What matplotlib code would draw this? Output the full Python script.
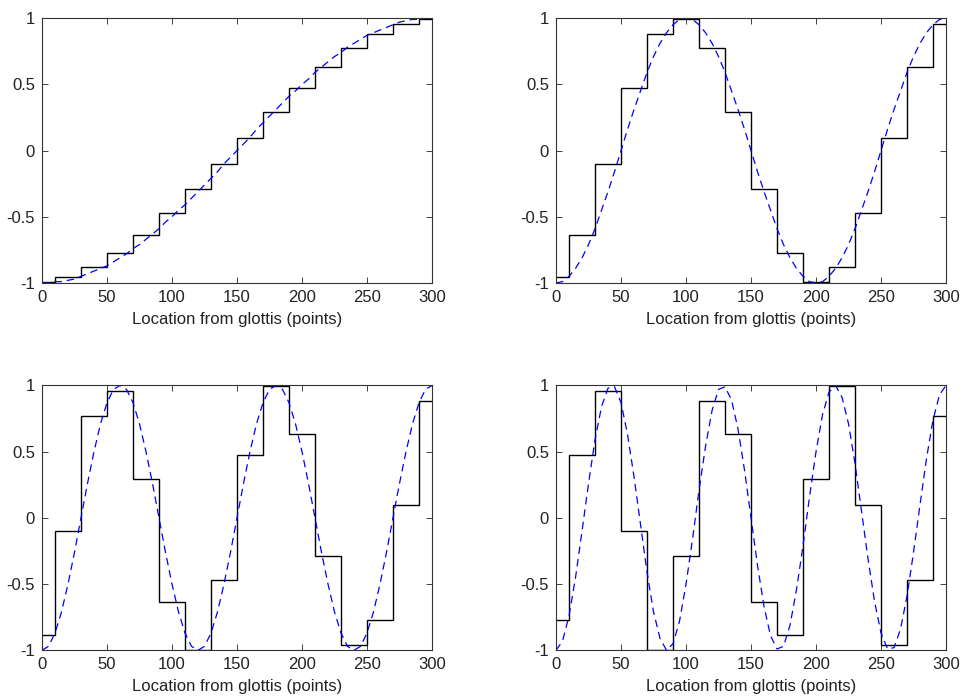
import matplotlib.pyplot as plt

# segment edges of the piecewise-constant (quantised) profile
seg_edges = [0, 10, 30, 50, 70, 90, 110, 130, 150, 170, 190, 210, 230, 250, 270, 290, 300]

# step levels for each panel (one value per segment)
steps_1 = [-0.995, -0.957, -0.882, -0.773, -0.634, -0.471, -0.290, -0.098,
           0.098, 0.290, 0.471, 0.634, 0.773, 0.882, 0.957, 0.995]
steps_3 = [-0.957, -0.634, -0.098, 0.471, 0.882, 0.995, 0.773, 0.290,
           -0.290, -0.773, -0.995, -0.882, -0.471, 0.098, 0.634, 0.957]
steps_5 = [-0.882, -0.098, 0.773, 0.957, 0.290, -0.634, -0.995, -0.471,
           0.471, 0.995, 0.634, -0.290, -0.957, -0.773, 0.098, 0.882]
steps_7 = [-0.773, 0.471, 0.957, -0.098, -0.995, -0.290, 0.882, 0.634,
           -0.634, -0.882, 0.290, 0.995, 0.098, -0.957, -0.471, 0.773]

# smooth (dashed) profiles, sampled every 5 points
x_smooth = [0, 5, 10, 15, 20, 25, 30, 35, 40, 45, 50, 55, 60, 65, 70, 75, 80, 85, 90, 95,
            100, 105, 110, 115, 120, 125, 130, 135, 140, 145, 150, 155, 160, 165, 170, 175,
            180, 185, 190, 195, 200, 205, 210, 215, 220, 225, 230, 235, 240, 245, 250, 255,
            260, 265, 270, 275, 280, 285, 290, 295, 300]
smooth_1 = [-1.00, -1.00, -0.99, -0.99, -0.98, -0.97, -0.95, -0.93, -0.91, -0.89, -0.87,
            -0.84, -0.81, -0.78, -0.74, -0.71, -0.67, -0.63, -0.59, -0.54, -0.50, -0.45,
            -0.41, -0.36, -0.31, -0.26, -0.21, -0.16, -0.10, -0.05, 0.00,
            0.05, 0.10, 0.16, 0.21, 0.26, 0.31, 0.36, 0.41, 0.45, 0.50, 0.54, 0.59, 0.63,
            0.67, 0.71, 0.74, 0.78, 0.81, 0.84, 0.87, 0.89, 0.91, 0.93, 0.95, 0.97, 0.98,
            0.99, 0.99, 1.00, 1.00]
smooth_3 = [-1.00, -0.99, -0.95, -0.89, -0.81, -0.71, -0.59, -0.45, -0.31, -0.16, 0.00,
            0.16, 0.31, 0.45, 0.59, 0.71, 0.81, 0.89, 0.95, 0.99, 1.00,
            0.99, 0.95, 0.89, 0.81, 0.71, 0.59, 0.45, 0.31, 0.16, 0.00,
            -0.16, -0.31, -0.45, -0.59, -0.71, -0.81, -0.89, -0.95, -0.99, -1.00,
            -0.99, -0.95, -0.89, -0.81, -0.71, -0.59, -0.45, -0.31, -0.16, 0.00,
            0.16, 0.31, 0.45, 0.59, 0.71, 0.81, 0.89, 0.95, 0.99, 1.00]
smooth_5 = [-1.00, -0.97, -0.87, -0.71, -0.50, -0.26, 0.00, 0.26, 0.50, 0.71, 0.87, 0.97, 1.00,
            0.97, 0.87, 0.71, 0.50, 0.26, 0.00, -0.26, -0.50, -0.71, -0.87, -0.97, -1.00,
            -0.97, -0.87, -0.71, -0.50, -0.26, 0.00, 0.26, 0.50, 0.71, 0.87, 0.97, 1.00,
            0.97, 0.87, 0.71, 0.50, 0.26, 0.00, -0.26, -0.50, -0.71, -0.87, -0.97, -1.00,
            -0.97, -0.87, -0.71, -0.50, -0.26, 0.00, 0.26, 0.50, 0.71, 0.87, 0.97, 1.00]
smooth_7 = [-1.00, -0.93, -0.74, -0.45, -0.10, 0.26, 0.59, 0.84, 0.98, 0.99, 0.87,
            0.63, 0.31, -0.05, -0.41, -0.71, -0.91, -1.00, -0.95, -0.78, -0.50,
            -0.16, 0.21, 0.54, 0.81, 0.97, 0.99, 0.89, 0.67, 0.36, 0.00,
            -0.36, -0.67, -0.89, -0.99, -0.97, -0.81, -0.54, -0.21, 0.16, 0.50,
            0.78, 0.95, 1.00, 0.91, 0.71, 0.41, 0.05, -0.31, -0.63, -0.87,
            -0.99, -0.98, -0.84, -0.59, -0.26, 0.10, 0.45, 0.74, 0.93, 1.00]

x_ticks = [0, 50, 100, 150, 200, 250, 300]
y_ticks = [-1, -0.5, 0, 0.5, 1]
y_ticklabels = ['-1', '-0.5', '0', '0.5', '1']
xlabel = 'Location from glottis (points)'

plt.rcParams['font.family'] = ['Liberation Sans', 'DejaVu Sans']

fig = plt.figure(figsize=(9.6, 6.97), dpi=100)
positions = [
    [0.04375, 0.594, 0.40625, 0.380],
    [0.5792, 0.594, 0.40625, 0.380],
    [0.04375, 0.067, 0.40625, 0.380],
    [0.5792, 0.067, 0.40625, 0.380],
]
panels = [(steps_1, smooth_1), (steps_3, smooth_3), (steps_5, smooth_5), (steps_7, smooth_7)]

for pos, (st, sm) in zip(positions, panels):
    ax = fig.add_axes(pos)
    ax.stairs(st, seg_edges, baseline=None, color='black', linewidth=1.0)
    ax.plot(x_smooth, sm, color='#0000ff', linestyle=(0, (6, 4)), linewidth=0.9)
    ax.set_xlim(0, 300)
    ax.set_ylim(-1, 1)
    ax.set_xticks(x_ticks)
    ax.set_yticks(y_ticks)
    ax.set_yticklabels(y_ticklabels)
    ax.tick_params(direction='in', top=True, right=True, length=4, width=0.6,
                   labelsize=12, pad=5, colors='#222222')
    ax.set_xlabel(xlabel, fontsize=12, labelpad=5, color='#222222')
    for s in ax.spines.values():
        s.set_linewidth(0.8)
        s.set_color('#333333')

plt.savefig('out.png', dpi=100)
